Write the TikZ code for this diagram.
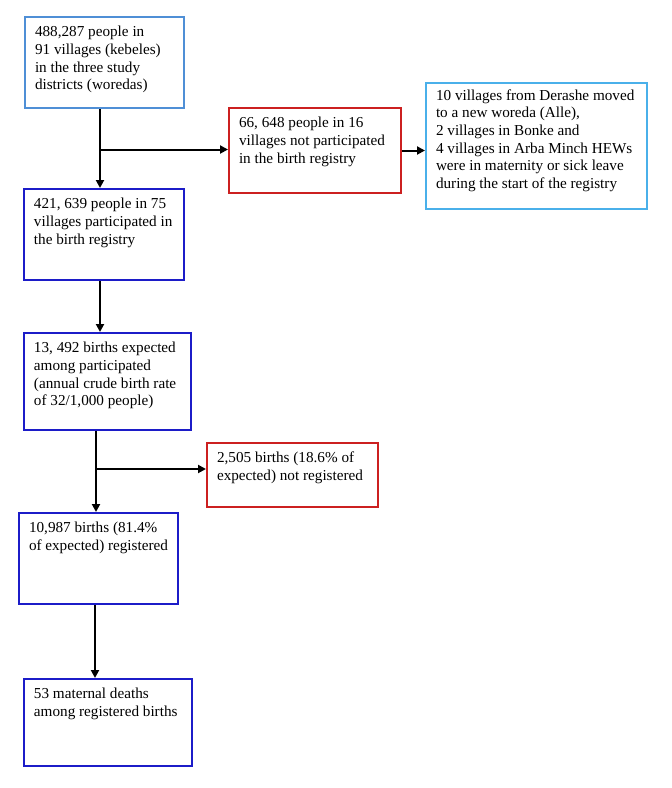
\documentclass[tikz,border=0pt]{standalone}
\usepackage{fontspec}
\setmainfont{Liberation Serif}
\usetikzlibrary{arrows.meta}
\definecolor{lblueA}{HTML}{4F8FD6}
\definecolor{lblueB}{HTML}{4AB0EA}
\definecolor{dblue}{HTML}{1C1CC8}
\definecolor{dred}{HTML}{CC2020}
\newcommand{\bt}[3]{\parbox[t][#2pt][t]{\dimexpr#1pt-20pt\relax}{\raggedright\vspace*{7.5pt}\strut #3}}
\tikzset{
  fbox/.style={draw=#1, line width=2pt, inner xsep=10pt, inner ysep=0pt, anchor=north west,
    font=\fontsize{15.2pt}{17.6pt}\selectfont},
  arr/.style={line width=2pt, -{Triangle[length=8pt,width=8pt]}}
}
\begin{document}
\begin{tikzpicture}[x=1pt,y=-1pt]
\useasboundingbox (0,0) rectangle (672,788);
\node[fbox=lblueA] (b1) at (24,16) {\bt{159}{91}{488,287 people in\\91 villages (kebeles)\\in the three study\\districts (woredas)}};
\node[fbox=dred] (b2) at (228,107) {\bt{172}{85}{66, 648 people in 16\\villages not participated\\in the birth registry}};
\node[fbox=lblueB] (b3) at (425,82) {\parbox[t][126pt][t]{201pt}{\raggedright\vspace*{5pt}\strut 10 villages from Derashe moved\\to a new woreda (Alle),\\2 villages in Bonke and\\4 villages in Arba Minch HEWs\\were in maternity or sick leave\\during the start of the registry}};
\node[fbox=dblue] (b4) at (23,188) {\bt{160}{91}{421, 639 people in 75\\villages participated in\\the birth registry}};
\node[fbox=dblue] (b5) at (23,332) {\bt{167}{97}{13, 492 births expected\\among participated\\(annual crude birth rate\\of 32/1,000 people)}};
\node[fbox=dred] (b6) at (206,442) {\bt{171}{64}{2,505 births (18.6\% of\\expected) not registered}};
\node[fbox=dblue] (b7) at (18,512) {\bt{159}{91}{10,987 births (81.4\%\\of expected) registered}};
\node[fbox=dblue] (b8) at (23,678) {\bt{168}{87}{53 maternal deaths\\among registered births}};
\coordinate (j1) at (100,149.5);
\coordinate (j2) at (96,469);
\coordinate (j3) at (95,640);
\draw[arr] (j1 |- b1.south) -- (j1 |- b4.north);
\draw[arr] (j1) -- (j1 -| b2.west);
\draw[arr] (b2.east) -- (b2.east -| b3.west);
\draw[arr] (j1 |- b4.south) -- (j1 |- b5.north);
\draw[arr] (j2 |- b5.south) -- (j2 |- b7.north);
\draw[arr] (j2) -- (j2 -| b6.west);
\draw[arr] (j3 |- b7.south) -- (j3 |- b8.north);
\end{tikzpicture}
\end{document}
